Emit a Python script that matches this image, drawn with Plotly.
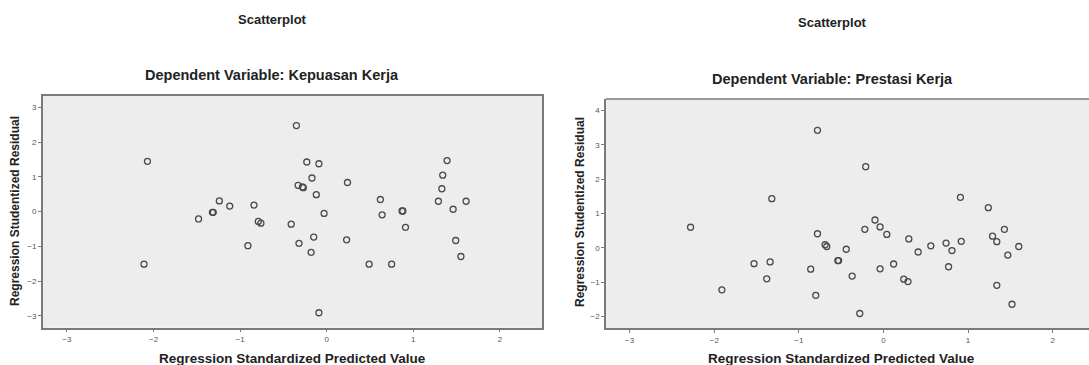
import plotly.graph_objects as go

# Left chart: Dependent Variable: Kepuasan Kerja
left_x = [-2.07, -2.11, -1.48, -1.31, -1.32, -1.24, -1.12, -0.91, -0.84, -0.79, -0.76,
          -0.41, -0.35, -0.33, -0.32, -0.28, -0.27, -0.23, -0.18, -0.17, -0.15, -0.12,
          -0.09, -0.09, -0.03, 0.24, 0.23, 0.49, 0.62, 0.64, 0.75, 0.87, 0.88, 0.91,
          1.29, 1.33, 1.34, 1.39, 1.46, 1.49, 1.55, 1.61]
left_y = [1.45, -1.51, -0.21, -0.02, -0.02, 0.31, 0.16, -0.98, 0.19, -0.28, -0.33,
          -0.36, 2.48, 0.76, -0.91, 0.71, 0.69, 1.43, -1.17, 0.97, -0.73, 0.49,
          1.38, -2.91, -0.05, 0.84, -0.81, -1.51, 0.35, -0.09, -1.51, 0.02, 0.02, -0.45,
          0.30, 0.66, 1.05, 1.47, 0.07, -0.83, -1.29, 0.30]

# Right chart: Dependent Variable: Prestasi Kerja
right_x = [-2.28, -1.91, -1.53, -1.38, -1.34, -1.32, -0.86, -0.80, -0.78, -0.78, -0.69,
           -0.67, -0.54, -0.53, -0.44, -0.37, -0.28, -0.22, -0.21, -0.10, -0.04, -0.04,
           0.04, 0.12, 0.24, 0.29, 0.30, 0.41, 0.56, 0.74, 0.77, 0.81, 0.91, 0.92,
           1.24, 1.29, 1.34, 1.34, 1.43, 1.47, 1.52, 1.60]
right_y = [0.60, -1.22, -0.46, -0.90, -0.41, 1.43, -0.62, -1.38, 3.42, 0.41, 0.09,
           0.04, -0.37, -0.37, -0.04, -0.82, -1.91, 0.54, 2.36, 0.81, 0.61, -0.61,
           0.39, -0.47, -0.91, -0.98, 0.26, -0.12, 0.06, 0.14, -0.55, -0.08, 1.47, 0.19,
           1.17, 0.34, 0.18, -1.09, 0.54, -0.21, -1.64, 0.04]

x_ticks = [-3, -2, -1, 0, 1, 2]
left_y_ticks = [-3, -2, -1, 0, 1, 2, 3]
right_y_ticks = [-2, -1, 0, 1, 2, 3, 4]

W, H = 1089, 365
FONT = "Liberation Sans, Arial, sans-serif"
FRAME = "#7a7a7a"
BG = "#ededed"
MARK = "#4a4a4a"

def px_x(p):
    return p / W

def px_y(p):
    return 1 - p / H

fig = go.Figure()
marker = dict(symbol="circle-open", size=6, color=MARK, line=dict(width=1.3, color=MARK))
fig.add_trace(go.Scatter(x=left_x, y=left_y, mode="markers", marker=marker,
                         xaxis="x", yaxis="y", showlegend=False))
fig.add_trace(go.Scatter(x=right_x, y=right_y, mode="markers", marker=marker,
                         xaxis="x2", yaxis="y2", showlegend=False))

tickfont = dict(family=FONT, size=8, color="#555555")
axis_common = dict(showgrid=False, zeroline=False, ticks="outside", ticklen=3,
                   tickcolor=FRAME, tickwidth=1, tickfont=tickfont,
                   showline=True, linecolor=FRAME, linewidth=1.5)

fig.update_layout(
    width=W, height=H,
    margin=dict(l=0, r=0, t=0, b=0),
    paper_bgcolor="white",
    plot_bgcolor=BG,
    xaxis=dict(domain=[px_x(42.7), px_x(542.3)], range=[-3.28, 2.49], tickvals=x_ticks,
               anchor="y", mirror=True, **axis_common),
    yaxis=dict(domain=[px_y(327.7), px_y(96)], range=[-3.34, 3.33], tickvals=left_y_ticks,
               anchor="x", mirror=True, **axis_common),
    xaxis2=dict(domain=[px_x(606), 1.0], range=[-3.28, 2.43], tickvals=x_ticks,
                anchor="y2", **axis_common),
    yaxis2=dict(domain=[px_y(328.3), px_y(99)], range=[-2.34, 4.33], tickvals=right_y_ticks,
                anchor="x2", **axis_common),
)

# top border of right chart (chart runs off the right edge)
fig.add_shape(type="line", xref="paper", yref="paper",
              x0=px_x(606), x1=1.0, y0=px_y(99), y1=px_y(99),
              line=dict(color=FRAME, width=1.5))

def ann(text, x, y, size, angle=0, color="#222222"):
    fig.add_annotation(text=f"<b>{text}</b>", xref="paper", yref="paper",
                       x=px_x(x), y=px_y(y), xanchor="center", yanchor="middle",
                       showarrow=False, textangle=angle,
                       font=dict(family=FONT, size=size, color=color))

ann("Scatterplot", 272, 19, 13)
ann("Dependent Variable: Kepuasan Kerja", 272, 75, 14.5)
ann("Scatterplot", 832, 23, 13)
ann("Dependent Variable: Prestasi Kerja", 832, 79, 14.5)
ann("Regression Standardized Predicted Value", 292, 358, 13.5)
ann("Regression Standardized Predicted Value", 841, 358, 13.5)
ann("Regression Studentized Residual", 15, 211, 12, angle=-90)
ann("Regression Studentized Residual", 580, 212, 12, angle=-90)

fig.write_html("out.html", config={"displayModeBar": False},
               post_script="document.body.style.margin='0';document.body.style.overflow='hidden';")
